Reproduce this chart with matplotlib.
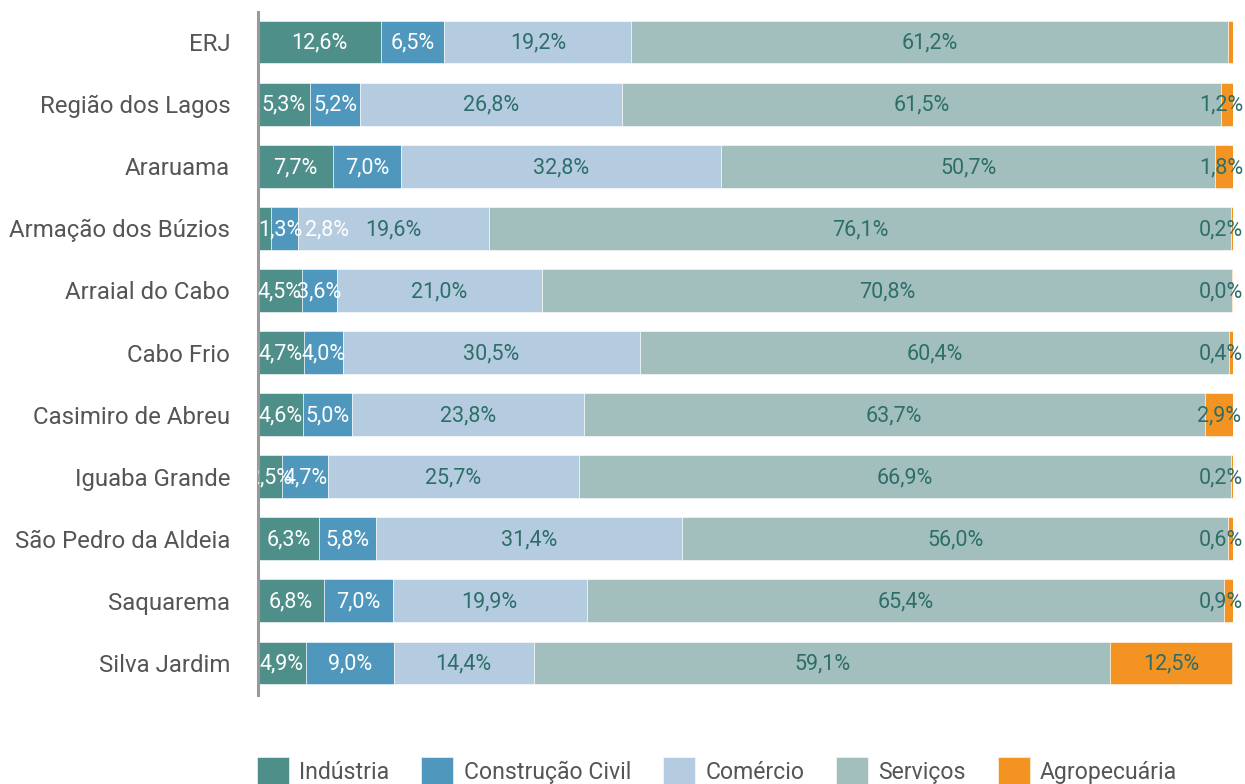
import matplotlib
matplotlib.use("Agg")
import matplotlib.pyplot as plt
from matplotlib.transforms import Bbox, TransformedBbox

plt.rcParams['font.family'] = ['Roboto', 'DejaVu Sans']

categories = ["ERJ", "Região dos Lagos", "Araruama", "Armação dos Búzios",
              "Arraial do Cabo", "Cabo Frio", "Casimiro de Abreu", "Iguaba Grande",
              "São Pedro da Aldeia", "Saquarema", "Silva Jardim"]
series = ["Indústria", "Construção Civil", "Comércio", "Serviços", "Agropecuária"]
industria = [12.6, 5.3, 7.7, 1.3, 4.5, 4.7, 4.6, 2.5, 6.3, 6.8, 4.9]
construcao = [6.5, 5.2, 7.0, 2.8, 3.6, 4.0, 5.0, 4.7, 5.8, 7.0, 9.0]
comercio = [19.2, 26.8, 32.8, 19.6, 21.0, 30.5, 23.8, 25.7, 31.4, 19.9, 14.4]
servicos = [61.2, 61.5, 50.7, 76.1, 70.8, 60.4, 63.7, 66.9, 56.0, 65.4, 59.1]
agro = [0.5, 1.2, 1.8, 0.2, 0.1, 0.4, 2.9, 0.2, 0.6, 0.9, 12.5]
agro_labels = [None, "1,2%", "1,8%", "0,2%", "0,0%", "0,4%", "2,9%", "0,2%", "0,6%", "0,9%", "12,5%"]

colors = ["#4E8F8A", "#4F97BC", "#B5CCE0", "#A2BFBE", "#F39322"]
text_colors = ["white", "white", "#2E6E69", "#2E6E69", "#2E6E69"]

W, H = 1245, 784
fig = plt.figure(figsize=(W / 100, H / 100), dpi=100)
ax_left, ax_right = 258 / W, 1233 / W
ax_top, ax_bot = 1 - 12 / H, 1 - 695 / H
ax = fig.add_axes([ax_left, ax_bot, ax_right - ax_left, ax_top - ax_bot])

data = [industria, construcao, comercio, servicos, agro]
ypos = list(range(len(categories)))
lefts = [0.0] * len(categories)
bar_h = 0.69
seg_info = [[] for _ in categories]
for si, vals in enumerate(data):
    ax.barh(ypos, vals, left=lefts, height=bar_h, color=colors[si],
            edgecolor="white", linewidth=0.4, label=series[si])
    for i, v in enumerate(vals):
        if si == 4:
            lab = agro_labels[i]
        else:
            lab = f"{v:.1f}".replace(".", ",") + "%"
        seg_info[i].append((lefts[i], v, lab, text_colors[si]))
        lefts[i] += v

ax.set_xlim(0, 100)
ax.set_ylim(len(categories) - 1 + 0.515, -0.483)

clipbox = TransformedBbox(Bbox([[0, -0.1], [1.2, 1.1]]), ax.transAxes)
fs = 15.5
px_per_unit = (ax_right - ax_left) * W / 100.0
tw = 44 / px_per_unit  # approximate label width in data units
max_center = 100 + (W - 2 - ax_right * W) / px_per_unit - tw / 2
for i, segs in enumerate(seg_info):
    centers = [l + v / 2 for (l, v, lab, c) in segs]
    # simple overlap avoidance for labels that nearly coincide
    for k in range(1, len(segs)):
        if segs[k][2] is None or segs[k - 1][2] is None:
            continue
        if centers[k] - centers[k - 1] < 0.55 * tw:
            centers[k - 1] = max(centers[k - 1], segs[k - 1][0] + tw / 2)
            centers[k] = centers[k - 1] + tw + 0.3
    for k, (l, v, lab, c) in enumerate(segs):
        if lab is None:
            continue
        x = min(centers[k], max_center)
        t = ax.text(x, i + 0.02, lab, ha="center", va="center",
                    color=c, fontsize=fs, clip_on=True)
        t.set_clip_box(clipbox)

ax.set_yticks(ypos)
ax.set_yticklabels(categories, fontsize=17.3, color="#555555")
ax.tick_params(axis="y", length=0, pad=20)
ax.set_xticks([])
for s in ["top", "right", "bottom"]:
    ax.spines[s].set_visible(False)
ax.spines["left"].set_color("#999999")
ax.spines["left"].set_linewidth(2.2)

handles, labels = ax.get_legend_handles_labels()
fig.legend(handles, labels, loc="center left", ncol=5,
           bbox_to_anchor=(ax_left - 0.001, 1 - 771 / H), frameon=False,
           fontsize=16.6, handlelength=1.4, handleheight=1.45,
           handletextpad=0.44, columnspacing=1.38, borderpad=0, borderaxespad=0,
           labelcolor="#555555")

fig.savefig("out.png", dpi=100)
